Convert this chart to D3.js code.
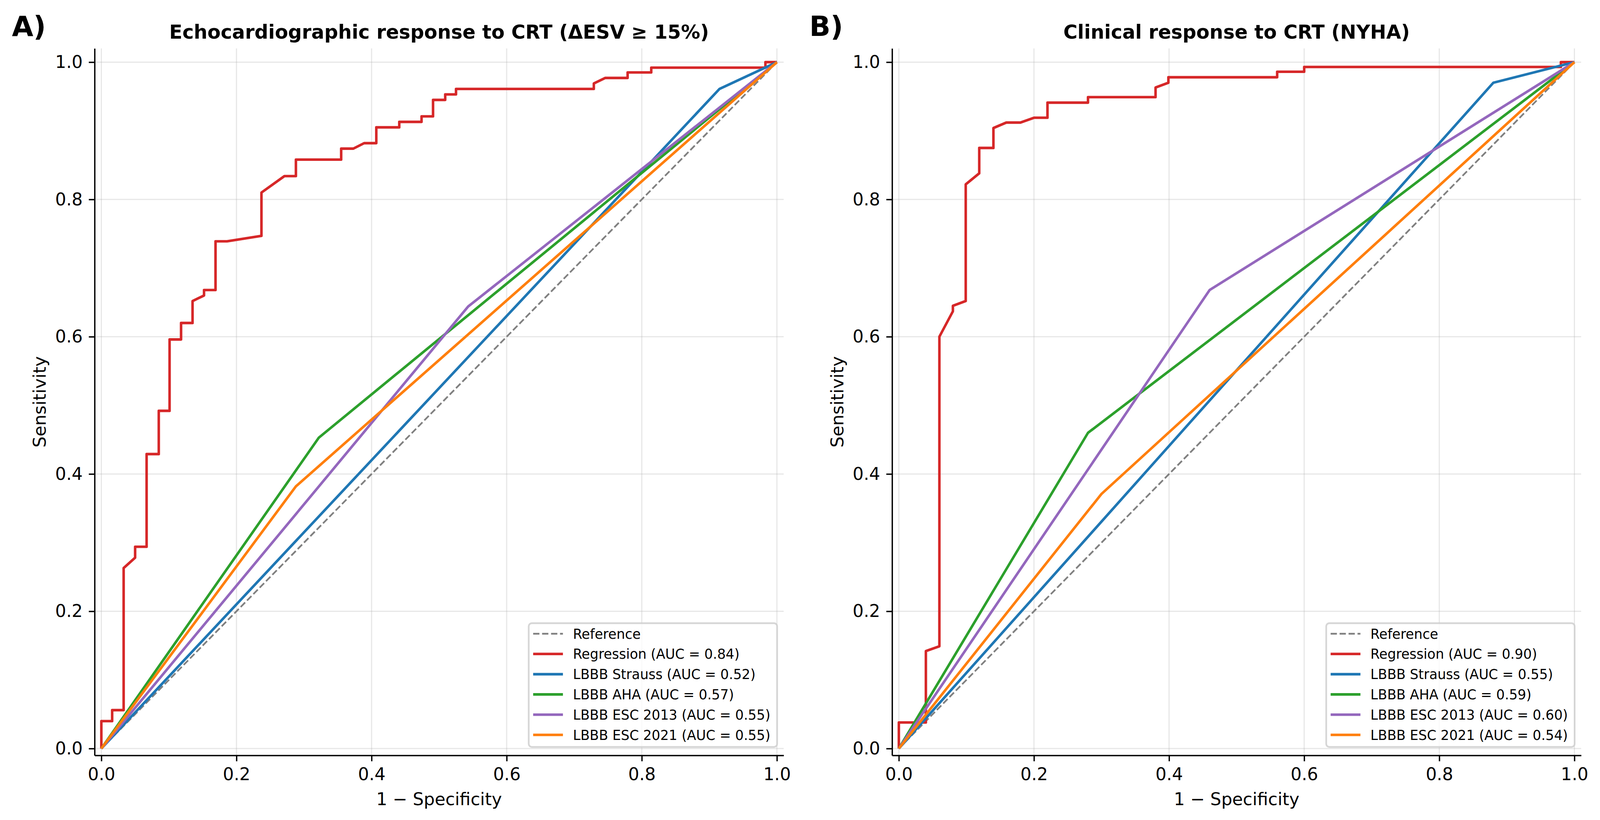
<!DOCTYPE html>
<html>
<head>
<meta charset="utf-8">
<script src="https://cdn.jsdelivr.net/npm/d3@7/dist/d3.min.js"></script>
<style>
  html, body { margin: 0; padding: 0; background: #fff; overflow: hidden; width: 100%; height: 100%; }
  svg { display: block; font-family: "DejaVu Sans", sans-serif; width: 100vw; height: 100vh; }
</style>
</head>
<body>
<svg id="chart" viewBox="0 0 4161 2100" preserveAspectRatio="none"></svg>
<script>
// ---------------- DATA ----------------
const tickValues = [0, 0.2, 0.4, 0.6, 0.8, 1.0];
const panelLetters = ["A)", "B)"];
const panelTitles = ["Echocardiographic response to CRT (\u0394ESV \u2265 15%)", "Clinical response to CRT (NYHA)"];
const xLabel = "1 \u2212 Specificity";
const yLabel = "Sensitivity";

const refFpr = [0, 1];
const refTpr = [0, 1];

// Panel A
const regA_fpr = [0, 0, 0.016, 0.016, 0.033, 0.033, 0.050, 0.050, 0.067, 0.067, 0.085, 0.085, 0.101, 0.101, 0.118, 0.118, 0.135, 0.135, 0.152, 0.152, 0.169, 0.169, 0.186, 0.237, 0.237, 0.271, 0.288, 0.288, 0.355, 0.355, 0.373, 0.389, 0.407, 0.407, 0.441, 0.441, 0.474, 0.474, 0.491, 0.491, 0.509, 0.509, 0.525, 0.525, 0.729, 0.729, 0.746, 0.779, 0.779, 0.814, 0.814, 0.983, 0.983, 1.0];
const regA_tpr = [0, 0.040, 0.040, 0.056, 0.056, 0.263, 0.278, 0.294, 0.294, 0.429, 0.429, 0.492, 0.492, 0.596, 0.596, 0.620, 0.620, 0.652, 0.660, 0.668, 0.668, 0.739, 0.739, 0.747, 0.810, 0.834, 0.834, 0.858, 0.858, 0.874, 0.874, 0.882, 0.882, 0.905, 0.905, 0.913, 0.913, 0.921, 0.921, 0.945, 0.945, 0.953, 0.953, 0.961, 0.961, 0.969, 0.977, 0.977, 0.985, 0.985, 0.992, 0.992, 1.0, 1.0];
const straussA_fpr = [0, 0.915, 1];
const straussA_tpr = [0, 0.961, 1];
const ahaA_fpr = [0, 0.322, 1];
const ahaA_tpr = [0, 0.453, 1];
const esc13A_fpr = [0, 0.543, 1];
const esc13A_tpr = [0, 0.644, 1];
const esc21A_fpr = [0, 0.288, 1];
const esc21A_tpr = [0, 0.382, 1];
const labelsA = ["Reference", "Regression (AUC = 0.84)", "LBBB Strauss (AUC = 0.52)", "LBBB AHA (AUC = 0.57)", "LBBB ESC 2013 (AUC = 0.55)", "LBBB ESC 2021 (AUC = 0.55)"];

// Panel B
const regB_fpr = [0, 0, 0.040, 0.040, 0.060, 0.060, 0.080, 0.080, 0.099, 0.099, 0.119, 0.119, 0.140, 0.140, 0.159, 0.180, 0.200, 0.220, 0.220, 0.280, 0.280, 0.380, 0.380, 0.399, 0.399, 0.560, 0.560, 0.600, 0.600, 0.980, 0.980, 1.0];
const regB_tpr = [0, 0.038, 0.038, 0.142, 0.149, 0.600, 0.637, 0.645, 0.652, 0.822, 0.838, 0.875, 0.875, 0.904, 0.912, 0.912, 0.919, 0.919, 0.941, 0.941, 0.949, 0.949, 0.963, 0.970, 0.978, 0.978, 0.986, 0.986, 0.993, 0.993, 1.0, 1.0];
const straussB_fpr = [0, 0.880, 1];
const straussB_tpr = [0, 0.970, 1];
const ahaB_fpr = [0, 0.280, 1];
const ahaB_tpr = [0, 0.460, 1];
const esc13B_fpr = [0, 0.460, 1];
const esc13B_tpr = [0, 0.668, 1];
const esc21B_fpr = [0, 0.300, 1];
const esc21B_tpr = [0, 0.371, 1];
const labelsB = ["Reference", "Regression (AUC = 0.90)", "LBBB Strauss (AUC = 0.55)", "LBBB AHA (AUC = 0.59)", "LBBB ESC 2013 (AUC = 0.60)", "LBBB ESC 2021 (AUC = 0.54)"];

// ---------------- STYLE ----------------
const seriesColors = ["#808080", "#d62728", "#1f77b4", "#2ca02c", "#9467bd", "#ff7f0e"];

function zipPts(xs, ys) { return xs.map((v, i) => [v, ys[i]]); }

const panels = [
  { letter: panelLetters[0], title: panelTitles[0], labels: labelsA, left: 246,
    series: [zipPts(refFpr, refTpr), zipPts(regA_fpr, regA_tpr), zipPts(straussA_fpr, straussA_tpr),
             zipPts(ahaA_fpr, ahaA_tpr), zipPts(esc13A_fpr, esc13A_tpr), zipPts(esc21A_fpr, esc21A_tpr)] },
  { letter: panelLetters[1], title: panelTitles[1], labels: labelsB, left: 2320,
    series: [zipPts(refFpr, refTpr), zipPts(regB_fpr, regB_tpr), zipPts(straussB_fpr, straussB_tpr),
             zipPts(ahaB_fpr, ahaB_tpr), zipPts(esc13B_fpr, esc13B_tpr), zipPts(esc21B_fpr, esc21B_tpr)] }
];

const svg = d3.select("#chart");
svg.append("rect").attr("width", 4161).attr("height", 2100).attr("fill", "#fff");

const axW = 1792, axTop = 124, axBottom = 1934.6;
const tickFont = 45, labelFont = 45, titleFont = 50, legendFont = 35;

panels.forEach((p, pi) => {
  const L = p.left, R = L + axW;
  const x = d3.scaleLinear().domain([-0.01, 1.01]).range([L, R]);
  const y = d3.scaleLinear().domain([-0.01, 1.02]).range([axBottom, axTop]);
  const g = svg.append("g");

  // grid
  g.append("g").selectAll("line.vg").data(tickValues).join("line")
    .attr("x1", d => x(d)).attr("x2", d => x(d)).attr("y1", axTop).attr("y2", axBottom)
    .attr("stroke", "#b0b0b0").attr("stroke-opacity", 0.3).attr("stroke-width", 3);
  g.append("g").selectAll("line.hg").data(tickValues).join("line")
    .attr("y1", d => y(d)).attr("y2", d => y(d)).attr("x1", L).attr("x2", R)
    .attr("stroke", "#b0b0b0").attr("stroke-opacity", 0.3).attr("stroke-width", 3);

  // lines
  const line = d3.line().x(d => x(d[0])).y(d => y(d[1]));
  p.series.forEach((pts, si) => {
    const path = g.append("path").datum(pts).attr("d", line)
      .attr("fill", "none").attr("stroke", seriesColors[si])
      .attr("stroke-linejoin", "round").attr("stroke-linecap", "butt");
    if (si === 0) path.attr("stroke-width", 4.4).attr("stroke-dasharray", "16.3,7");
    else path.attr("stroke-width", 6.6);
  });

  // axes
  const xAxis = d3.axisBottom(x).tickValues(tickValues).tickFormat(d3.format(".1f"))
    .tickSize(15).tickSizeOuter(0).tickPadding(16);
  const yAxis = d3.axisLeft(y).tickValues(tickValues).tickFormat(d3.format(".1f"))
    .tickSize(15).tickSizeOuter(0).tickPadding(16);
  const gx = g.append("g").attr("transform", `translate(0,${axBottom})`).call(xAxis);
  const gy = g.append("g").attr("transform", `translate(${L},0)`).call(yAxis);
  [gx, gy].forEach(a => {
    a.selectAll("text").attr("font-size", tickFont).attr("font-family", "DejaVu Sans").attr("fill", "#000");
    a.selectAll("line").attr("stroke", "#000").attr("stroke-width", 3.5);
    a.select(".domain").attr("stroke", "#000").attr("stroke-width", 3.5);
  });

  // axis labels
  g.append("text").attr("x", (L + R) / 2).attr("y", 2062).attr("text-anchor", "middle")
    .attr("font-size", labelFont).text(xLabel);
  g.append("text").attr("transform", `translate(${L - 127},${(axTop + axBottom) / 2}) rotate(-90)`)
    .attr("text-anchor", "middle").attr("font-size", labelFont).text(yLabel);

  // title
  g.append("text").attr("x", (L + R) / 2).attr("y", 99).attr("text-anchor", "middle")
    .attr("font-size", titleFont).attr("font-weight", "bold").text(p.title);

  // panel letter
  g.append("text").attr("x", L - 215).attr("y", 92)
    .attr("font-size", 72).attr("font-weight", "bold").text(p.letter);

  // legend
  const lw = 646, lh = 317;
  const lx = R - 17 - lw, ly = axBottom - 21.6 - lh;
  const lg = g.append("g");
  lg.append("rect").attr("x", lx).attr("y", ly).attr("width", lw).attr("height", lh)
    .attr("rx", 8).attr("ry", 8).attr("fill", "#fff").attr("fill-opacity", 0.8)
    .attr("stroke", "#cccccc").attr("stroke-opacity", 0.8).attr("stroke-width", 4.4);
  p.labels.forEach((lab, i) => {
    const cy = ly + 27 + i * 51.8;
    const hl = lg.append("line").attr("x1", lx + 11.5).attr("x2", lx + 89).attr("y1", cy).attr("y2", cy)
      .attr("stroke", seriesColors[i]);
    if (i === 0) hl.attr("stroke-width", 4.4).attr("stroke-dasharray", "16.3,7");
    else hl.attr("stroke-width", 6.6);
    lg.append("text").attr("x", lx + 115).attr("y", cy + 12.6)
      .attr("font-size", legendFont).attr("fill", "#000").text(lab);
  });
});
</script>
</body>
</html>
